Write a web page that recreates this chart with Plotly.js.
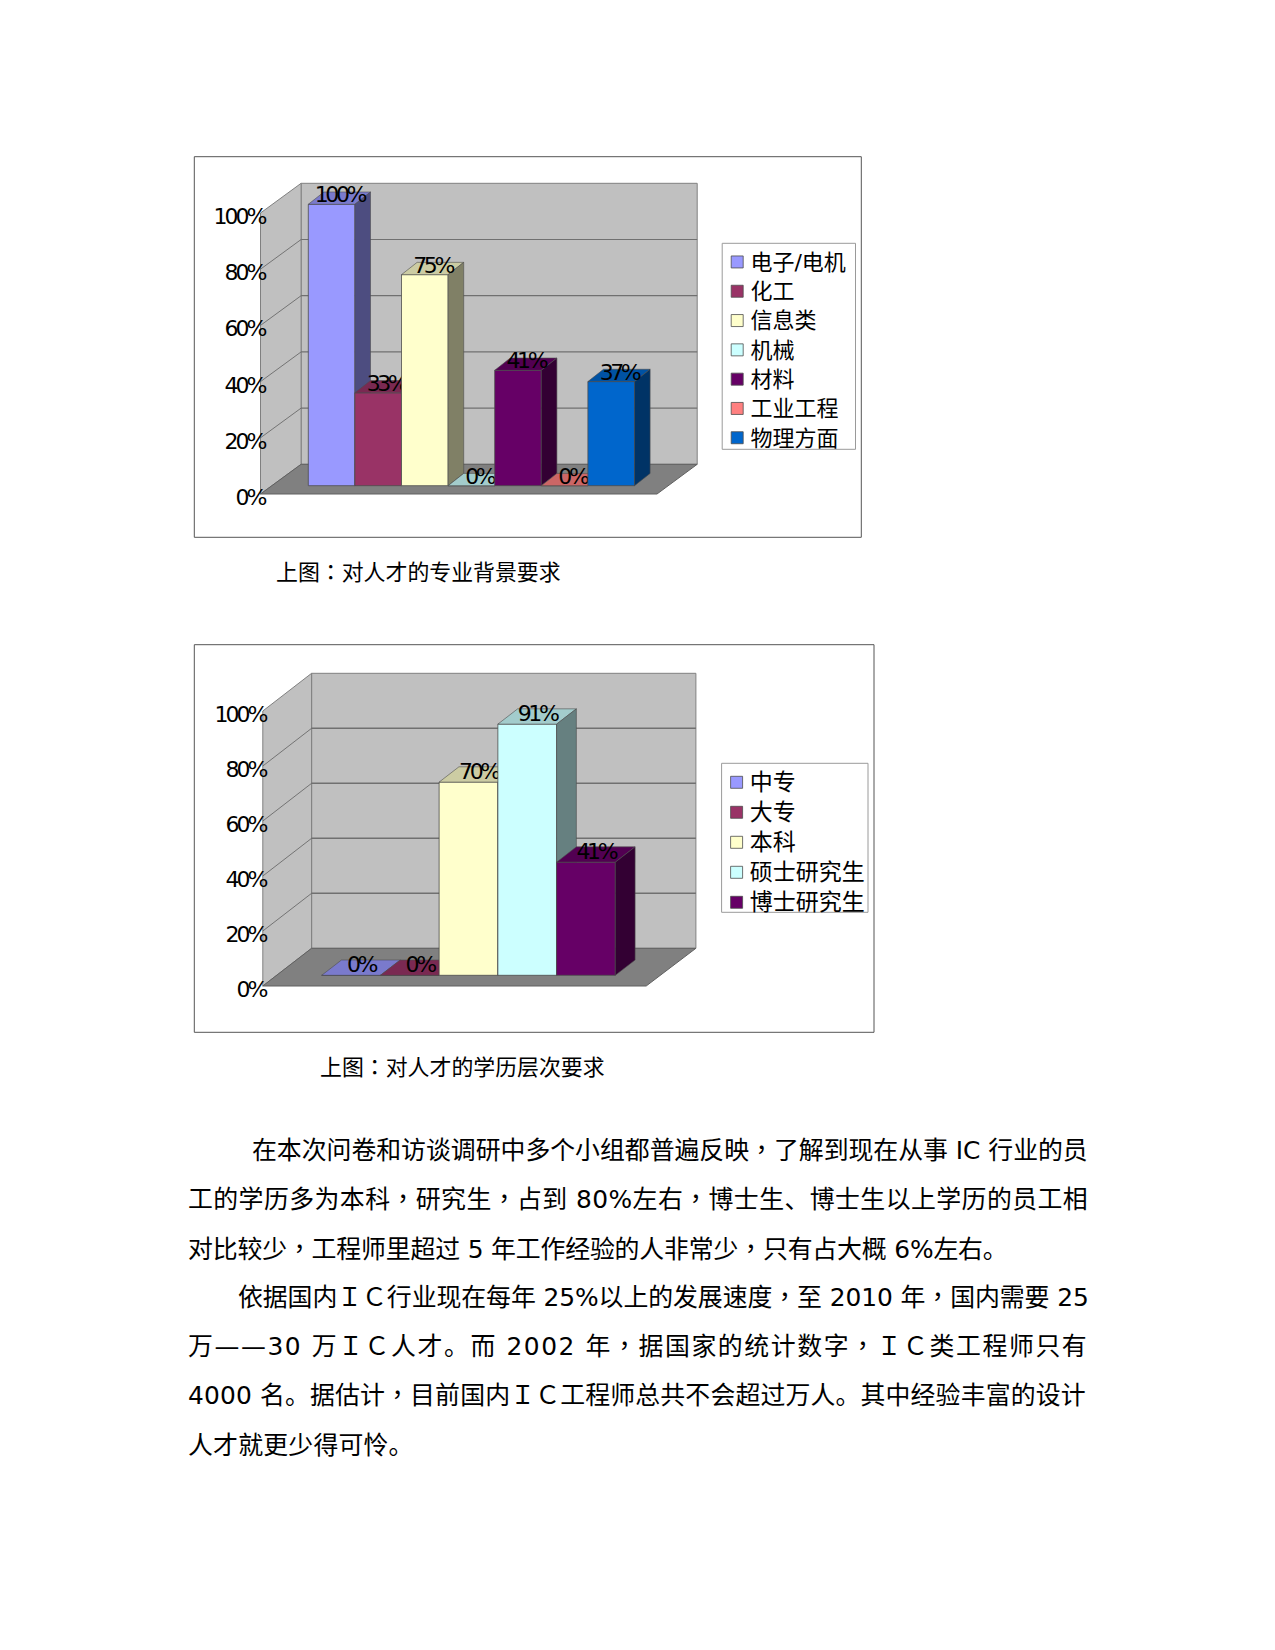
<!DOCTYPE html>
<html><head><meta charset="utf-8">
<script src="https://cdn.plot.ly/plotly-3.0.1.min.js"></script>
<style>html,body{margin:0;padding:0;background:#fff}
.legendtext,.legend2text{transform:translateX(-6.8px)}</style></head>
<body><div id="chart" style="width:1275px;height:1650px"></div>
<script>
const cats1 = ['电子/电机','化工','信息类','机械','材料','工业工程','物理方面'];
const vals1 = [100,33,75,0,41,0,37];
const colors1 = ['#9999FF','#993366','#FFFFCC','#CCFFFF','#660066','#FF8080','#0066CC'];
const cats2 = ['中专','大专','本科','硕士研究生','博士研究生'];
const vals2 = [0,0,70,91,41];
const colors2 = ['#9999FF','#993366','#FFFFCC','#CCFFFF','#660066'];
const tickVals = [0,20,40,60,80,100];
const tickLabels = ['0%','20%','40%','60%','80%','100%'];
const caption1 = '上图：对人才的专业背景要求';
const caption2 = '上图：对人才的学历层次要求';
const bodyLines = [
 '在本次问卷和访谈调研中多个小组都普遍反映，了解到现在从事 IC 行业的员',
 '工的学历多为本科，研究生，占到 80%左右，博士生、博士生以上学历的员工相',
 '对比较少，工程师里超过 5 年工作经验的人非常少，只有占大概 6%左右。',
 '依据国内ＩＣ行业现在每年 25%以上的发展速度，至 2010 年，国内需要 25',
 '万——30 万ＩＣ人才。而 2002 年，据国家的统计数字，ＩＣ类工程师只有',
 '4000 名。据估计，目前国内ＩＣ工程师总共不会超过万人。其中经验丰富的设计',
 '人才就更少得可怜。'
];
const W=1275,H=1650;
const FAM='"DejaVu Sans","Noto Sans CJK SC",sans-serif';
const layoutGeom = [
 {cats:cats1,vals:vals1,colors:colors1,suffix:'',frame:{l:194.3,r:861.3,t:156.7,b:537.3},
  wall:{l:301.1,r:697.2,t:183.3,b:464.3},front:{l:260.5,b:494,r:657},
  barL:308.3,barW:46.6,base:485.7,k:2.814,dx:15.6,dy:12.3,tickRight:264.5,
  legend:{l:722.2,r:855.5,t:243.3,b:449.3},legendFont:22,rowFont:20.23},
 {cats:cats2,vals:vals2,colors:colors2,suffix:'2',frame:{l:194.3,r:874,t:644.7,b:1032.3},
  wall:{l:311.6,r:695.9,t:673.3,b:948.3},front:{l:262.8,b:986,r:646.2},
  barL:321.7,barW:58.72,base:975.3,k:2.76,dx:19.8,dy:15.3,tickRight:265.5,
  legend:{l:721.6,r:868,t:763.3,b:912.3},legendFont:23,rowFont:20.77}
];
function shade(hex,f){
  const n=parseInt(hex.slice(1),16);
  const c=[(n>>16)&255,(n>>8)&255,n&255].map(v=>Math.round(v*f));
  return 'rgb('+c.join(',')+')';
}
const traces=[],shapes=[],layout={width:W,height:H,margin:{l:0,r:0,t:0,b:0},paper_bgcolor:'#fff',plot_bgcolor:'rgba(0,0,0,0)',
  barmode:'overlay',showlegend:true,hovermode:false,font:{family:FAM,color:'#000'},annotations:[]};

layoutGeom.forEach((g,ci)=>{
  const xa='x'+g.suffix, ya='y'+g.suffix;
  const x0=g.barL+g.barW/2;
  const X=p=>(p-x0)/g.barW, Y=p=>(g.base-p)/g.k;
  const depthX=g.dx/g.barW, depthY=g.dy/g.k;
  const dom={x:[g.frame.l/W,g.frame.r/W],y:[1-g.frame.b/H,1-g.frame.t/H]};
  layout['xaxis'+g.suffix]={domain:dom.x,range:[X(g.frame.l),X(g.frame.r)],visible:false,fixedrange:true};
  layout['yaxis'+g.suffix]={domain:dom.y,range:[Y(g.frame.b),Y(g.frame.t)],visible:false,fixedrange:true};
  const wallH=g.wall.b-g.wall.t, k2=wallH/100;
  const tId=ci===0?'3':'4';
  const tickBase=g.front.b+3.2;
  layout['yaxis'+tId]={overlaying:ya,anchor:'free',position:g.tickRight/W,side:'left',
    range:[(tickBase-g.frame.b)/k2,(tickBase-g.frame.t)/k2],
    tickmode:'array',tickvals:tickVals,
    ticktext:tickLabels.map(t=>'<span style="letter-spacing:-3px">'+t+'</span>'),
    ticklen:0,showgrid:false,zeroline:false,showline:false,fixedrange:true,
    tickfont:{family:FAM,size:22,color:'#000'}};
  traces.push({type:'scatter',mode:'none',x:[0,0],y:[0,100],xaxis:xa,yaxis:'y'+tId,showlegend:false,hoverinfo:'skip'});

  const poly=(pts,fill,line,lw)=>{
    shapes.push({type:'path',layer:'below',xref:xa,yref:ya,
      path:'M'+pts.map(p=>X(p[0])+','+Y(p[1])).join('L')+'Z',
      fillcolor:fill,line:{color:line,width:lw}});
  };
  const seg=(a,b,c,w)=>shapes.push({type:'line',layer:'below',xref:xa,yref:ya,
      x0:X(a[0]),y0:Y(a[1]),x1:X(b[0]),y1:Y(b[1]),line:{color:c,width:w}});
  const w=g.wall,f=g.front;
  poly([[w.l,w.t],[w.r,w.t],[w.r,w.b],[w.l,w.b]],'#C0C0C0','#808080',1);
  poly([[w.l,w.t],[w.l,w.b],[f.l,f.b],[f.l,f.b-wallH]],'#C0C0C0','#808080',1);
  poly([[w.l,w.b],[w.r,w.b],[f.r,f.b],[f.l,f.b]],'#808080','#606060',1);
  tickVals.slice(1,-1).forEach(p=>{
    const by=w.b-p*k2, fy=f.b-p*k2;
    seg([w.l,by],[w.r,by],'#707070',ci===0?1.2:1.6);
    seg([w.l,by],[f.l,fy],'#606060',0.8);
  });

  g.vals.forEach((v,i)=>{
    const z=i+1, L=i-0.5, R=i+0.5, col=g.colors[i];
    traces.push({type:'bar',x:[i],y:[v],width:1,
      name:'<span style="font-size:'+g.legendFont+'px">'+g.cats[i]+'</span>',
      xaxis:xa,yaxis:ya,zorder:z,
      legend:ci===0?'legend':'legend2',
      marker:{color:col,line:{color:'#4d4d4d',width:0.8}},hoverinfo:'skip'});
    traces.push({type:'scatter',mode:'lines',xaxis:xa,yaxis:ya,zorder:z,showlegend:false,hoverinfo:'skip',
      x:[L,R,R+depthX,L+depthX,L],y:[v,v,v+depthY,v+depthY,v],fill:'toself',fillcolor:shade(col,0.8),
      line:{color:'#4d4d4d',width:0.6}});
    if(v>0) traces.push({type:'scatter',mode:'lines',xaxis:xa,yaxis:ya,zorder:z,showlegend:false,hoverinfo:'skip',
      x:[R,R+depthX,R+depthX,R,R],y:[0,depthY,v+depthY,v,0],fill:'toself',fillcolor:shade(col,0.5),
      line:{color:'#4d4d4d',width:0.6}});
    traces.push({type:'scatter',mode:'text',xaxis:xa,yaxis:ya,zorder:z,showlegend:false,hoverinfo:'skip',
      x:[i+depthX/2],y:[v+depthY/2+0.5],
      text:['<span style="letter-spacing:-3.4px">'+v+'%</span>'],textposition:'middle center',
      textfont:{family:FAM,size:22,color:'#000'},cliponaxis:false});
  });

  const lg=g.legend;
  layout[ci===0?'legend':'legend2']={x:lg.l/W,y:1-(lg.t-1)/H,xanchor:'left',yanchor:'top',
    bgcolor:'rgba(0,0,0,0)',borderwidth:0,indentation:-5,
    font:{family:FAM,size:g.rowFont,color:'#000'},traceorder:'normal',tracegroupgap:0};
  shapes.push({type:'rect',layer:'below',xref:'paper',yref:'paper',
    x0:lg.l/W,x1:lg.r/W,y0:1-lg.b/H,y1:1-lg.t/H,line:{color:'#9a9a9a',width:1},fillcolor:'#fff'});
  shapes.push({type:'rect',layer:'below',xref:'paper',yref:'paper',
    x0:g.frame.l/W,x1:g.frame.r/W,y0:1-g.frame.b/H,y1:1-g.frame.t/H,line:{color:'#555',width:1},fillcolor:'rgba(0,0,0,0)'});
});
layout.shapes=shapes;

const tcWrap=s=>s.replace(/([，：])/g,'<span style="font-family:Noto Sans CJK TC">$1</span>');
function addText(str,left,y,size,right){
  let html=tcWrap(str);
  if(right){
    const cv=document.createElement('canvas').getContext('2d');
    cv.font=size+'px '+FAM;
    const n=[...str].length;
    const sp=(right-left-cv.measureText(str).width)/(n-1);
    html='<span style="letter-spacing:'+sp.toFixed(3)+'px">'+html+'</span>';
  }
  layout.annotations.push({xref:'paper',yref:'paper',x:left/W,y:1-y/H,xanchor:'left',yanchor:'middle',
    align:'left',showarrow:false,borderpad:0,borderwidth:0,text:html,font:{family:FAM,size:size,color:'#000'}});
}
addText(caption1,276,570,21.9);
addText(caption2,320,1065,21.9);
const bodyY=[1148.3,1197.3,1246.8,1295.3,1344.2,1393.2,1445.5];
const bodyL=[252,188,188,238,188,188,188];
const bodyR=[1087.7,1087.7,1007.7,1088.8,1086.7,1085.6,413.5];
bodyLines.forEach((t,i)=>addText(t,bodyL[i],bodyY[i],24.9,bodyR[i]));

Plotly.newPlot('chart',traces,layout,{staticPlot:true,displayModeBar:false});
</script></body></html>
